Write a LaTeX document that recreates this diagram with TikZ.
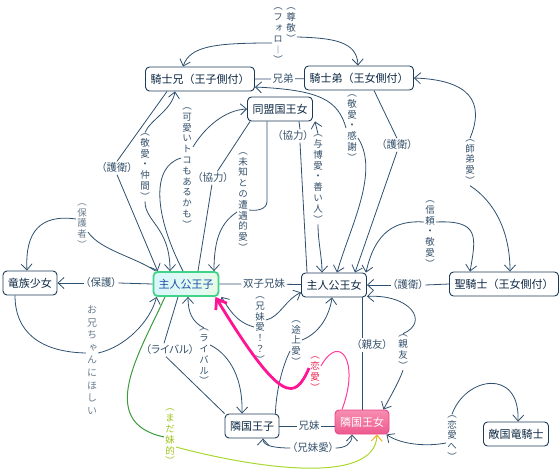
\documentclass[tikz,border=0pt]{standalone}
\usepackage{fontspec}
\setmainfont{Noto Sans CJK JP}
\newfontfamily\vjp[RawFeature=+vert]{Noto Sans CJK JP}
\newfontfamily\hjp[RawFeature=+palt]{Noto Sans CJK JP}
\usetikzlibrary{arrows.meta}
\definecolor{linec}{HTML}{2E506E}
\definecolor{boxc}{HTML}{1B3B58}
\definecolor{textc}{HTML}{0C2843}
\definecolor{labc}{HTML}{34506A}
\definecolor{labl}{HTML}{6B7D8E}
\definecolor{lovec}{HTML}{E8264F}
\definecolor{leafc}{HTML}{9CC418}
\definecolor{pinkc}{HTML}{FF1493}
\definecolor{pinkt}{HTML}{FF3BA0}
\definecolor{grnc}{HTML}{3C9C3C}
\definecolor{ylwc}{HTML}{A8D830}
\definecolor{orgc}{HTML}{F5A623}
\definecolor{herod}{HTML}{3FD48A}
\definecolor{herol}{HTML}{D8F6FB}
\definecolor{heror}{HTML}{E8FBEA}
\definecolor{herot}{HTML}{1F4FA8}
\definecolor{hinad}{HTML}{E8468A}
\definecolor{hinat}{HTML}{F78DB0}
\definecolor{hinab}{HTML}{EE5A8E}
\begin{document}
\begin{tikzpicture}[
  x=1pt, y=1pt,
  font=\fontsize{11}{13}\selectfont,
  box/.style={draw=boxc, line width=0.9pt, rounded corners=4pt, fill=white, text=textc,
              minimum height=24pt, inner xsep=5pt, inner ysep=2pt},
  hero/.style={box, draw=herod, line width=1.8pt, left color=herol,
               right color=heror, text=herot},
  heroine/.style={box, draw=hinad, top color=hinat, bottom color=hinab, text=white},
  hlab/.style={font=\hjp\fontsize{10.5}{12}\selectfont, text=labc, inner sep=1.5pt},
  vlab/.style={font=\vjp\fontsize{9.5}{10.8}\selectfont, text=labc, align=center, inner sep=1pt},
  ln/.style={draw=linec, line width=0.8pt},
  arr/.style={ln, -{Straight Barb[length=6pt,width=11pt]}},
  pk/.style={draw=pinkc, line width=2.8pt, -{Straight Barb[length=9pt,width=13pt]}},
  pkthin/.style={draw=pinkt, line width=1pt},
  grn/.style={draw=grnc, line width=1pt},
  ylw/.style={draw=ylwc, line width=1pt, -{Straight Barb[length=6pt,width=11pt,color=orgc]}}
]
\useasboundingbox (0,0) rectangle (559,472);

\node[box] (kb) at (200,393) {騎士兄（王子側付）};
\node[box] (kt) at (359,394) {騎士弟（王女側付）};
\node[box] (dm) at (280,363) {同盟国王女};
\node[box] (ry) at (30,189) {竜族少女};
\node[hero] (oz) at (186,188) {主人公王子};
\node[box] (oj) at (334,187) {主人公王女};
\node[box] (sk) at (504,188) {聖騎士（王女側付）};
\node[box] (ro) at (252,46) {隣国王子};
\node[heroine] (rj) at (362,50) {隣国王女};
\node[box] (tk) at (516,38) {敵国竜騎士};

\node[hlab] (xd) at (283,393) {兄弟};
\node[hlab] (sz) at (264,188) {双子兄妹};
\node[hlab] (km) at (309,46) {兄妹};
\node[hlab] (hg) at (101,189) {（保護）};
\node[hlab] (g1) at (117,304) {（護衛）};
\node[hlab] (kr1) at (213,294) {（協力）};
\node[hlab] (kr2) at (293,336) {（協力）};
\node[hlab] (g2) at (397,327) {（護衛）};
\node[hlab] (g3) at (408,187) {（護衛）};
\node[hlab] (rv1) at (170,122) {（ライバル）};
\node[hlab] (ka2) at (313,24) {（兄妹愛）};
\node[hlab] (sy1) at (372,127) {（親友）};

\node[vlab] (fo) at (278,436) {︵\\フ\\ォ\\ロ\\︱\\︶};
\node[vlab] (sn) at (291,447) {︵\\尊\\敬\\︶};
\node[vlab] (kw) at (187,304) {︵\\可\\愛\\い\\ト\\コ\\も\\あ\\る\\か\\も\\︶};
\node[vlab] (ka) at (145,305) {︵\\敬\\愛\\・\\仲\\間\\︶};
\node[vlab] (mc) at (243,270) {︵\\未\\知\\と\\の\\遭\\遇\\的\\愛\\︶};
\node[vlab] (hz) at (318,293) {︵\\与\\博\\愛\\・\\善\\い\\人\\︶};
\node[vlab] (kk) at (352,344) {︵\\敬\\愛\\・\\感\\謝\\︶};
\node[vlab] (st) at (470,310) {︵\\師\\弟\\愛\\︶};
\node[vlab] (sr) at (430,238) {︵\\信\\頼\\・\\敬\\愛\\︶};
\node[vlab, text=labl] (hs) at (82,246) {︵\\保\\護\\者\\︶};
\node[vlab, text=labl, font=\vjp\fontsize{10}{12.6}\selectfont] (on) at (92,112) {お\\兄\\ち\\ゃ\\ん\\に\\ほ\\し\\い};
\node[vlab] (ka3) at (260,142) {︵\\兄\\妹\\愛\\！\\？\\︶};
\node[vlab] (tj) at (296,129) {︵\\途\\上\\愛\\︶};
\node[vlab, text=lovec] (ra) at (315,98) {︵\\恋\\愛\\︶};
\node[vlab] (rv2) at (204,115) {︵\\ラ\\イ\\バ\\ル\\︶};
\node[vlab] (sy2) at (403,120) {︵\\親\\友\\︶};
\node[vlab] (rh) at (452,34) {︵\\恋\\愛\\へ\\︶};
\node[vlab, text=leafc] (md) at (170,35) {︵\\ま\\だ\\妹\\的\\︶};

\draw[ln] (kb) -- (xd) -- (kt);
\draw[arr] ([yshift=-7]fo.west) .. controls (215,429) and (190,426) .. ([xshift=-17]kb.north);
\draw[arr] ([yshift=-12]sn.east) .. controls (335,434) and (357,430) .. ([xshift=-1]kt.north);
\draw[ln] ([xshift=-33]kb.south) -- (g1.north);
\draw[arr] (g1.south) -- ([xshift=5]oz.north west);
\draw[arr] (ka.north) .. controls (150,352) and (172,362) .. ([xshift=-25]kb.south);
\draw[arr] (ka.south) .. controls (145,250) and (170,245) .. ([xshift=-16]oz.north);
\draw[arr] ([yshift=21]kw.east) .. controls (205,345) and (225,362) .. (dm.west);
\draw[ln] ([yshift=10]kw.west) .. controls (150,305) and (155,255) .. ([xshift=-3]oz.north);
\draw[ln] ([xshift=3]dm.south west) -- (kr1) -- ([xshift=12]oz.north);
\draw[ln] ([xshift=-13]dm.south) -- ++(0,-80) to[out=-90,in=-10] ([yshift=-8]mc.east);
\draw[arr] ([yshift=-10]mc.west) .. controls (222,250) and (214,235) .. ([xshift=28]oz.north);
\draw[ln] ([xshift=19]dm.south) -- ([xshift=7]kr2.north);
\draw[ln] ([xshift=7]kr2.south) -- ([xshift=-27]oj.north);
\draw[arr] (hz.north) -- ([xshift=2]dm.south east);
\draw[arr] (hz.south) .. controls (318,230) and (322,215) .. ([xshift=-12]oj.north);
\draw[ln] ([xshift=15]kt.south) -- (g2.north);
\draw[arr] (g2.south) -- ([xshift=21]oj.north);
\draw[arr] (kk.west) .. controls (338,372) and (320,382) .. ([yshift=-8]kb.east);
\draw[arr] ([yshift=-10]kk.east) .. controls (380,300) and (350,245) .. ([xshift=3]oj.north);
\draw[arr] (st.north) .. controls (485,370) and (470,392) .. (kt.east);
\draw[arr] (st.south) .. controls (495,270) and (510,240) .. ([xshift=6]sk.north);
\draw[arr] ([yshift=12]sr.west) .. controls (395,252) and (375,240) .. ([xshift=-1]oj.north east);
\draw[arr] ([yshift=12]sr.east) .. controls (480,252) and (476,235) .. ([xshift=21]sk.north west);
\draw[ln] (sk.west) -- (g3.east);
\draw[arr] (g3.west) -- (oj.east);
\draw[ln] (oz) -- (sz) -- (oj);
\draw[ln] (oz.west) -- (hg.east);
\draw[arr] (hg.west) -- (ry.east);
\draw[arr] ([yshift=7]hs.west) .. controls (40,258) and (25,240) .. ([xshift=-3]ry.north);
\draw[ln] ([yshift=-6]hs.east) .. controls (100,222) and (135,215) .. ([xshift=3]oz.north west);
\draw[ln] ([xshift=-15]ry.south) .. controls (15,140) and (40,120) .. ([yshift=7]on.west);
\draw[arr] ([yshift=7]on.east) .. controls (125,125) and (150,150) .. ([xshift=4]oz.south west);
\draw[ln] ([xshift=-8]oz.south) -- ([xshift=-6]rv1.north);
\draw[ln] ([xshift=-4]rv1.south) -- (ro.north west);
\draw[arr] (rv2.north) .. controls (192,150) and (188,160) .. ([xshift=2]oz.south);
\draw[arr] ([yshift=12]rv2.east) .. controls (225,120) and (243,100) .. ([xshift=-10]ro.north);
\draw[arr] ([yshift=3]ka3.west) .. controls (235,150) and (228,165) .. ([xshift=2]oz.south east);
\draw[arr] ([yshift=10]ka3.east) .. controls (280,155) and (285,172) .. ([yshift=5]oj.south west);
\draw[arr] ([yshift=3]tj.east) .. controls (322,140) and (330,160) .. ([xshift=-2]oj.south);
\draw[ln] ([yshift=-8]tj.west) .. controls (282,105) and (276,80) .. ([xshift=-4]ro.north east);
\draw[ln] (ro.east) -- (km.west);
\draw[ln] (km.east) -- (km.east -| rj.west);
\draw[arr] (ka2.west) .. controls (275,24) and (263,26) .. ([xshift=11]ro.south);
\draw[arr] (ka2.east) .. controls (345,24) and (352,28) .. ([xshift=-10]rj.south);
\draw[ln] ([xshift=28]oj.south) -- ([xshift=-10]sy1.north);
\draw[ln] ([xshift=-10]sy1.south) -- (rj.north);
\draw[arr] (sy2.north) .. controls (430,150) and (410,178) .. ([yshift=1]oj.south east);
\draw[arr] (sy2.south) .. controls (398,88) and (390,75) .. ([xshift=-6]rj.north east);
\draw[arr] (rh.north) .. controls (465,95) and (520,105) .. ([xshift=2]tk.north);
\draw[arr] ([yshift=-5]rh.west) .. controls (425,25) and (400,28) .. ([xshift=-3]rj.south east);
\draw[pkthin] ([xshift=-20]rj.north) .. controls (360,110) and (340,140) .. ([yshift=8]ra.east);
\draw[pk] ([yshift=6]ra.west) .. controls (295,72) and (282,66) .. ([xshift=-4]oz.south east);
\draw[grn] ([xshift=-21]oz.south) .. controls (140,120) and (95,50) .. (md.west);
\draw[ylw] ([yshift=-10]md.east) .. controls (250,5) and (375,-15) .. ([xshift=15]rj.south);
\end{tikzpicture}
\end{document}
